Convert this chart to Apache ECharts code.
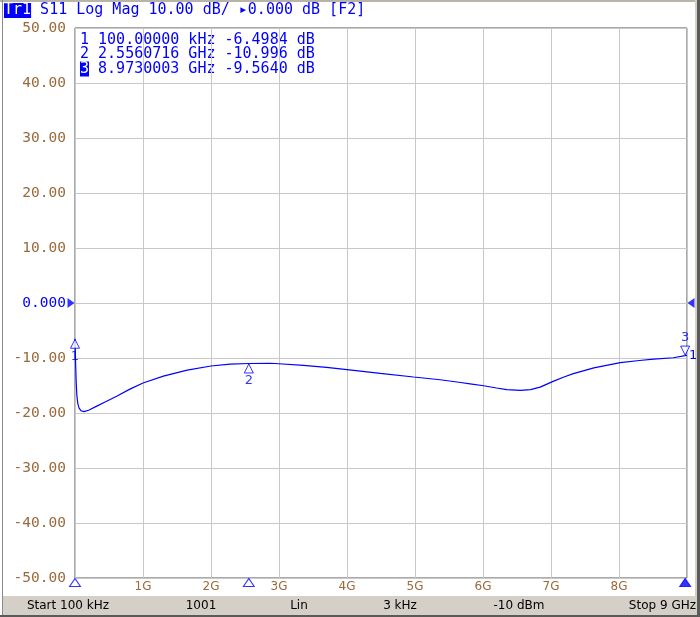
<!DOCTYPE html>
<html><head><meta charset="utf-8">
<script src="https://cdn.jsdelivr.net/npm/echarts@6/dist/echarts.min.js"></script>
<style>html,body{margin:0;padding:0;background:#fff}#c{width:700px;height:617px}</style>
</head><body><div id="c"></div>
<script>
// Trace S11 (GHz, dB)
const freqGHz = [0.0001, 0.009, 0.018, 0.027, 0.04, 0.06, 0.09, 0.13, 0.2, 0.32, 0.45, 0.62, 0.8, 1.0, 1.3, 1.65, 2.0, 2.28, 2.556, 2.87, 3.0, 3.36, 3.7, 4.0, 4.49, 4.98, 5.37, 5.67, 5.81, 6.01, 6.2, 6.35, 6.55, 6.7, 6.84, 7.04, 7.2, 7.33, 7.63, 8.02, 8.3, 8.51, 8.8, 8.973, 9.0];
const s11dB = [-6.4984, -11.0, -14.6, -16.7, -18.2, -19.1, -19.6, -19.75, -19.5, -18.75, -17.95, -16.9, -15.7, -14.55, -13.3, -12.2, -11.45, -11.1, -10.996, -10.95, -11.05, -11.35, -11.7, -12.1, -12.8, -13.45, -13.95, -14.45, -14.7, -15.05, -15.45, -15.75, -15.9, -15.75, -15.3, -14.2, -13.4, -12.85, -11.8, -10.85, -10.45, -10.2, -9.95, -9.564, -9.5];
// Markers
const markerNames = ['1', '2', '3'];
const markerFreqHz = [100000, 2556071600, 8973000300];
const markerDb = [-6.4984, -10.996, -9.5640];
const markerActive = [false, false, true];
// Ticks / labels
const xTickLabels = ['', '1G', '2G', '3G', '4G', '5G', '6G', '7G', '8G', ''];
const titleParts = ['Tr1', 'S11 Log Mag 10.00 dB/ \u25B80.000 dB [F2]'];
const statusItems = ['Start 100 kHz', '1001', 'Lin', '3 kHz', '-10 dBm', 'Stop 9 GHz'];

const BLUE = '#0000ff';
const BROWN = '#9a6a3a';
const MONO = '"DejaVu Sans Mono", monospace';
const SANS = '"DejaVu Sans", sans-serif';

function fmtFreq(hz) {
  if (hz < 1e6) return (hz / 1e3).toFixed(5) + ' kHz';
  return (hz / 1e9).toFixed(7) + ' GHz';
}
function fmtDb(v) { return v.toPrecision(5) + ' dB'; }

const traceData = freqGHz.map((f, i) => [f, s11dB[i]]);
const markerData = markerFreqHz.map((hz, i) => ({
  value: [hz / 1e9, markerDb[i]],
  name: markerNames[i],
  symbolRotate: markerActive[i] ? 180 : 0,
  symbolOffset: markerActive[i] ? [0, -5] : [0, 5],
  label: { position: markerActive[i] ? 'top' : 'bottom' }
}));
const axisMarkData = markerFreqHz.map((hz, i) => ({
  value: [hz / 1e9, -50],
  itemStyle: { color: markerActive[i] ? BLUE : '#fff' }
}));

const statusX = [68, 201, 299, 400, 519, 696];
const statusAlign = ['center', 'center', 'center', 'center', 'center', 'right'];

const graphics = [
  // window frame
  { type: 'rect', shape: { x: 0, y: 0, width: 700, height: 2 }, style: { fill: '#b8b4a8' }, silent: true },
  { type: 'rect', shape: { x: 2, y: 0, width: 1, height: 617 }, style: { fill: '#8a8a8a' }, silent: true },
  { type: 'rect', shape: { x: 695, y: 0, width: 2, height: 617 }, style: { fill: '#d4d0c8' }, silent: true },
  { type: 'rect', shape: { x: 697, y: 0, width: 3, height: 617 }, style: { fill: '#5a5a5a' }, silent: true },
  // status bar
  { type: 'rect', shape: { x: 3, y: 596, width: 692, height: 19 }, style: { fill: '#d4d0c8' }, silent: true },
  { type: 'rect', shape: { x: 0, y: 615, width: 700, height: 2 }, style: { fill: '#5a5a5a' }, silent: true },
  // title
  {
    type: 'text', left: 4, top: 3,
    style: {
      text: '{hl|' + titleParts[0] + '} ' + titleParts[1],
      font: '15px ' + MONO, fill: BLUE,
      rich: { hl: { backgroundColor: BLUE, fill: '#fff', font: '15px ' + MONO } }
    }
  }
];
markerNames.forEach((n, i) => {
  const idx = markerActive[i] ? '{hl|' + n + '}' : n;
  graphics.push({
    type: 'text', x: 80, y: 40 + i * 14.5,
    style: {
      text: idx + ' ' + fmtFreq(markerFreqHz[i]) + ' ' + fmtDb(markerDb[i]),
      font: '15px ' + MONO, fill: BLUE, verticalAlign: 'middle',
      rich: { hl: { backgroundColor: BLUE, fill: '#fff', font: '15px ' + MONO } }
    }
  });
});
statusItems.forEach((s, i) => {
  graphics.push({
    type: 'text', x: statusX[i], y: 606,
    style: { text: s, font: '12px ' + SANS, fill: '#000', align: statusAlign[i], verticalAlign: 'middle' }
  });
});

const chart = echarts.init(document.getElementById('c'));
chart.setOption({
  animation: false,
  backgroundColor: '#fff',
  grid: { left: 75, right: 13, top: 28, bottom: 39, show: true, borderColor: '#555', borderWidth: 1, backgroundColor: 'transparent' },
  xAxis: {
    type: 'value', min: 0, max: 9, interval: 1,
    axisLine: { show: false }, axisTick: { show: false },
    splitLine: { show: true, lineStyle: { color: '#c8c8c8', width: 1 } },
    axisLabel: {
      margin: 3, color: BROWN, fontFamily: SANS, fontSize: 12,
      formatter: v => xTickLabels[Math.round(v)] || ''
    }
  },
  yAxis: {
    type: 'value', min: -50, max: 50, interval: 10,
    axisLine: { show: false }, axisTick: { show: false },
    splitLine: { show: true, lineStyle: { color: '#c8c8c8', width: 1 } },
    axisLabel: {
      margin: 9, color: BROWN, fontFamily: MONO, fontSize: 14.5,
      formatter: v => v === 0 ? '{z|0.000}' : v.toFixed(2),
      rich: { z: { color: BLUE, fontFamily: MONO, fontSize: 14.5 } }
    }
  },
  series: [
    {
      type: 'line', data: traceData, showSymbol: false, symbol: 'none',
      lineStyle: { color: BLUE, width: 1.2 }, z: 3,
      endLabel: { show: true, formatter: '1', color: BLUE, fontFamily: SANS, fontSize: 13, distance: 2 }
    },
    {
      type: 'scatter', data: markerData, symbol: 'triangle', symbolSize: [9, 9], clip: false, z: 4,
      itemStyle: { color: '#fff', borderColor: BLUE, borderWidth: 1 },
      label: { show: true, formatter: p => p.name, color: BLUE, fontFamily: SANS, fontSize: 13, distance: 1 }
    },
    {
      type: 'scatter', data: axisMarkData, symbol: 'triangle', symbolSize: [11, 8], symbolOffset: [0, 4.5], clip: false, z: 4,
      itemStyle: { borderColor: BLUE, borderWidth: 1 }
    },
    {
      type: 'scatter', clip: false, z: 4, symbol: 'triangle', symbolSize: [10, 7],
      itemStyle: { color: BLUE },
      data: [
        { value: [0, 0], symbolRotate: -90, symbolOffset: [-4, 0] },
        { value: [9, 0], symbolRotate: 90, symbolOffset: [4, 0] }
      ]
    }
  ],
  graphic: graphics
});
</script>
</body></html>
